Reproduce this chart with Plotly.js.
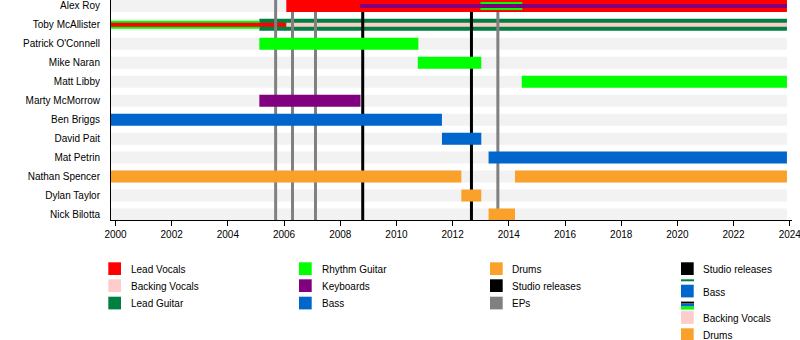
<!DOCTYPE html>
<html>
<head>
<meta charset="utf-8">
<script src="https://cdn.plot.ly/plotly-3.0.1.min.js"></script>
<style>html,body{margin:0;padding:0;background:#fff;}#chart{width:800px;height:340px;}</style>
</head>
<body>
<div id="chart"></div>
<script>
// ---------- DATA ----------
const members = ['Alex Roy','Toby McAllister',"Patrick O'Connell",'Mike Naran','Matt Libby','Marty McMorrow','Ben Briggs','David Pait','Mat Petrin','Nathan Spencer','Dylan Taylor','Nick Bilotta'];
const timelineStart = 1999.84;
const timelineEnd = 2023.9;

// main (full-height) bars
const mainMember = ['Alex Roy','Toby McAllister',"Patrick O'Connell",'Mike Naran','Matt Libby','Marty McMorrow','Ben Briggs','David Pait','Mat Petrin','Nathan Spencer','Nathan Spencer','Dylan Taylor','Nick Bilotta'];
const mainRole   = ['Lead Vocals','Lead Guitar','Rhythm Guitar','Rhythm Guitar','Rhythm Guitar','Keyboards','Bass','Bass','Bass','Drums','Drums','Drums','Drums'];
const mainStart  = [2006.08, 2005.12, 2005.12, 2010.76, 2014.46, 2005.12, 1999.84, 2011.62, 2013.28, 1999.84, 2014.22, 2012.31, 2013.28];
const mainEnd    = [2023.9, 2023.9, 2010.78, 2013.02, 2023.9, 2008.72, 2011.62, 2013.02, 2023.9, 2012.31, 2023.9, 2013.02, 2014.22];

// secondary roles (medium stripes)
const midMember = ['Toby McAllister','Alex Roy'];
const midRole   = ['Rhythm Guitar','Rhythm Guitar'];
const midStart  = [1999.84, 2012.99];
const midEnd    = [2005.12, 2014.48];

// secondary roles (thin stripes)
const innerMember = ['Toby McAllister','Toby McAllister','Alex Roy'];
const innerRole   = ['Lead Vocals','Backing Vocals','Keyboards'];
const innerStart  = [1999.84, 2006.08, 2008.70];
const innerEnd    = [2006.08, 2023.9, 2023.9];

// releases
const studioReleases = [2008.80, 2012.67];
const epReleases = [2005.70, 2006.30, 2007.12, 2013.61];

// legend
const legendMain = ['Lead Vocals','Backing Vocals','Lead Guitar','Rhythm Guitar','Keyboards','Bass','Drums','Studio releases','EPs'];
const legendExtra = ['Studio releases','Bass','Backing Vocals','Drums'];

// ---------- STYLE ----------
const roleColor = {
  'Lead Vocals':'#ff0000','Backing Vocals':'#ffcccc','Lead Guitar':'#008040',
  'Rhythm Guitar':'#00ff00','Keyboards':'#800080','Bass':'#0066cc',
  'Drums':'#f9a12a','Studio releases':'#000000','EPs':'#808080'
};
const underLineRows = ['Toby McAllister']; // rows drawn beneath release lines
const W_MAIN = 12, W_MID = 8, W_INNER = 4;
const FONT = 'Liberation Sans, Arial, Helvetica, sans-serif';

const M = {l:111, r:8, t:0, b:120};
const PW = 800 - M.l - M.r, PH = 340 - M.t - M.b;
const px = x => (x - M.l) / PW;
const py = y => (PH + M.t - y) / PH;
const rowIdx = n => members.indexOf(n);

function seg(x0, x1, row, color, width){
  return {type:'scatter', mode:'lines', x:[x0,x1], y:[row,row],
    line:{color:color, width:width}, hoverinfo:'skip', showlegend:false};
}

const traces = [];
// background bands
members.forEach((m,i)=>traces.push(seg(timelineStart, timelineEnd, i, '#f2f2f2', W_MAIN)));

function addBars(filterUnder){
  const pick = m => underLineRows.includes(m) === filterUnder;
  mainMember.forEach((m,i)=>{ if(pick(m)) traces.push(seg(mainStart[i], mainEnd[i], rowIdx(m), roleColor[mainRole[i]], W_MAIN)); });
  midMember.forEach((m,i)=>{ if(pick(m)) traces.push(seg(midStart[i], midEnd[i], rowIdx(m), roleColor[midRole[i]], W_MID)); });
  innerMember.forEach((m,i)=>{ if(pick(m)) traces.push(seg(innerStart[i], innerEnd[i], rowIdx(m), roleColor[innerRole[i]], W_INNER)); });
}
addBars(true);
// release lines
const yLo = -0.6, yHi = members.length - 0.4;
epReleases.forEach(d=>traces.push({type:'scatter', mode:'lines', x:[d,d], y:[yLo,yHi], line:{color:roleColor['EPs'], width:3}, hoverinfo:'skip', showlegend:false}));
studioReleases.forEach(d=>traces.push({type:'scatter', mode:'lines', x:[d,d], y:[yLo,yHi], line:{color:roleColor['Studio releases'], width:3}, hoverinfo:'skip', showlegend:false}));
addBars(false);

// legend drawing
const shapes = [], annotations = [];
function legendItem(label, color, sx, sy, tx, ty){
  shapes.push({type:'rect', xref:'paper', yref:'paper', x0:px(sx), x1:px(sx+12.7), y0:py(sy+12.7), y1:py(sy), fillcolor:color, line:{width:0}, layer:'above'});
  annotations.push({xref:'paper', yref:'paper', x:px(tx), y:py(ty), xanchor:'left', yanchor:'middle', text:label, showarrow:false, font:{family:FONT, size:10, color:'#000'}, borderpad:0});
}
const colSq = [108.3, 299, 490], colTx = [129.5, 320.5, 511];
const rowSq = [262.3, 279.3, 296.7];
legendMain.forEach((lab,i)=>{
  const c = Math.floor(i/3), r = i%3;
  legendItem(lab, roleColor[lab], colSq[c], rowSq[r], colTx[c], rowSq[r]+7);
});
// extra legend column
const exSq = 681, exTx = 702;
legendItem(legendExtra[0], roleColor[legendExtra[0]], exSq, 262.3, exTx, 269.5);
shapes.push({type:'rect', xref:'paper', yref:'paper', x0:px(exSq), x1:px(exSq+13), y0:py(281.3), y1:py(279.3), fillcolor:roleColor['Lead Guitar'], line:{width:0}});
legendItem(legendExtra[1], roleColor[legendExtra[1]], exSq, 284.7, exTx, 292.8);
shapes.push({type:'rect', xref:'paper', yref:'paper', x0:px(exSq), x1:px(exSq+13), y0:py(303.6), y1:py(301.6), fillcolor:'#000', line:{width:0}});
shapes.push({type:'rect', xref:'paper', yref:'paper', x0:px(exSq), x1:px(exSq+13), y0:py(306.6), y1:py(303.9), fillcolor:roleColor['Bass'], line:{width:0}});
shapes.push({type:'rect', xref:'paper', yref:'paper', x0:px(exSq), x1:px(exSq+13), y0:py(309.6), y1:py(306.6), fillcolor:roleColor['Rhythm Guitar'], line:{width:0}});
legendItem(legendExtra[2], roleColor[legendExtra[2]], exSq, 311.2, exTx, 318.8);
legendItem(legendExtra[3], roleColor[legendExtra[3]], exSq, 328.3, exTx, 335.5);

const layout = {
  width:800, height:340, margin:M,
  paper_bgcolor:'#fff', plot_bgcolor:'#fff',
  showlegend:false, hovermode:false,
  font:{family:FONT, size:10, color:'#000'},
  xaxis:{range:[timelineStart, 2024.08], tickmode:'linear', tick0:2000, dtick:2,
    ticks:'outside', ticklen:5, tickwidth:1, tickcolor:'#000', ticklabeloverflow:'allow',
    showline:true, linecolor:'#000', linewidth:1, showgrid:false, zeroline:false,
    tickfont:{family:FONT, size:10, color:'#000'}},
  yaxis:{range:[members.length - 1 + 0.29, -0.31], tickmode:'array',
    tickvals:members.map((m,i)=>i), ticktext:members, ticks:'', ticklabelstandoff:8,
    showline:true, linecolor:'#000', linewidth:1, showgrid:false, zeroline:false,
    tickfont:{family:FONT, size:10, color:'#000'}},
  shapes:shapes, annotations:annotations
};
Plotly.newPlot('chart', traces, layout, {staticPlot:true, displayModeBar:false});
</script>
</body>
</html>
